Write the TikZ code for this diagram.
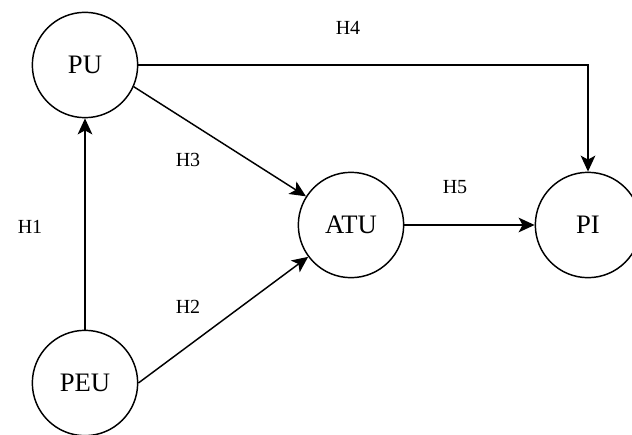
\documentclass[tikz,border=0pt]{standalone}
\usepackage{fontspec}
\setmainfont{Liberation Serif}
\usetikzlibrary{arrows.meta}
\begin{document}
\begin{tikzpicture}[x=0.75pt, y=-0.75pt,
  construct/.style={circle, draw=black, line width=1.1pt, minimum size=79pt, inner sep=0pt, font=\fontsize{20}{24}\selectfont},
  hyp/.style={font=\fontsize{15}{18}\selectfont},
  path/.style={line width=1.1pt, -{Stealth[length=12pt, width=11pt, inset=3pt]}}]
\useasboundingbox (0,0) rectangle (632,435);

\node[construct] (PU) at (85, 65) {PU};
\node[construct] (PEU) at (85, 383) {PEU};
\node[construct] (ATU) at (351, 225) {ATU};
\node[construct] (PI) at (588, 225) {PI};

\node[hyp] (H1) at (30, 227) {H1};
\node[hyp] (H2) at (188, 307) {H2};
\node[hyp] (H3) at (188, 160) {H3};
\node[hyp] (H4) at (348, 28) {H4};
\node[hyp] (H5) at (455, 187) {H5};

\draw[path] (PEU.north) -- (PU.south);
\draw[path] (PEU.east) -- (ATU);
\draw[path] (PU.-24) -- (ATU);
\draw[path] (PU.east) -| (PI.north);
\draw[path] (ATU.east) -- (PI.west);
\end{tikzpicture}
\end{document}
